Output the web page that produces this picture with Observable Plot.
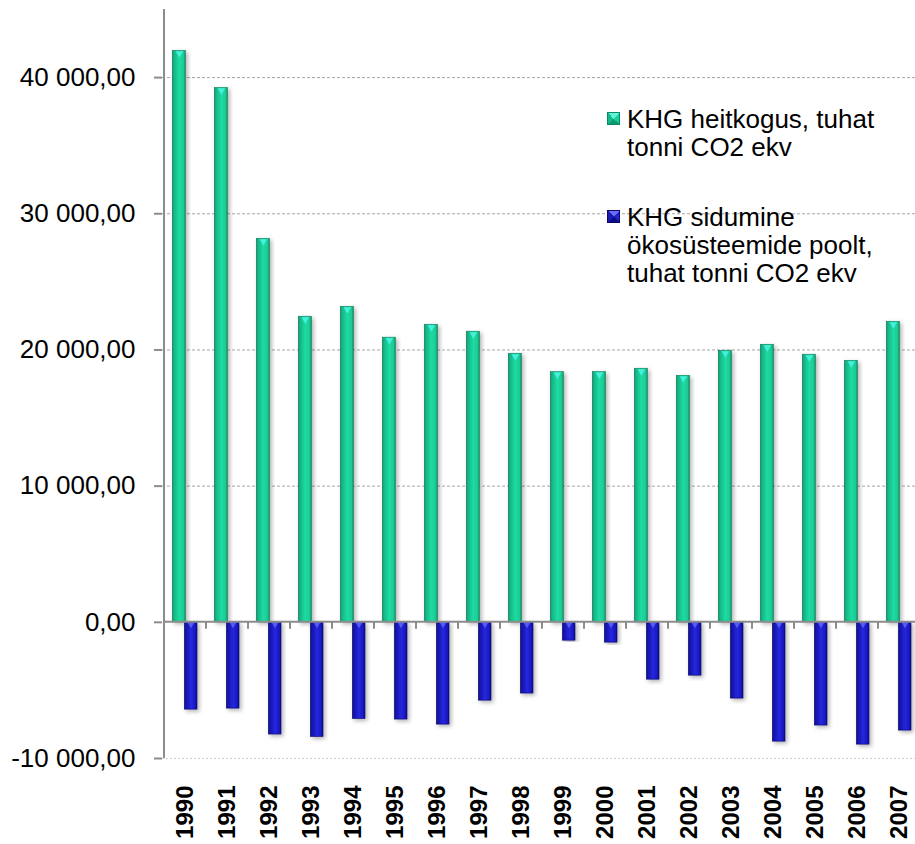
<!DOCTYPE html>
<html>
<head>
<meta charset="utf-8">
<script src="https://cdn.jsdelivr.net/npm/d3@7"></script>
<script src="https://cdn.jsdelivr.net/npm/@observablehq/plot@0.6"></script>
<style>
  html, body { margin: 0; padding: 0; background: #fff; }
  #wrap { position: relative; width: 915px; height: 844px; overflow: hidden; font-family: "Liberation Sans", Arial, sans-serif; }
  .lg-text { position: absolute; font-size: 26px; line-height: 28px; color: #000; white-space: nowrap; }
  .lg-mark { position: absolute; width: 13px; height: 13px; box-sizing: border-box; }
</style>
</head>
<body>
<div id="wrap"></div>
<script>
const years = ["1990","1991","1992","1993","1994","1995","1996","1997","1998","1999","2000","2001","2002","2003","2004","2005","2006","2007"];
const emissions = [41960, 39240, 28160, 22440, 23170, 20900, 21850, 21340, 19720, 18370, 18380, 18620, 18100, 19940, 20380, 19650, 19200, 22070];
const sinks = [-6410, -6335, -8240, -8420, -7100, -7140, -7510, -5750, -5230, -1345, -1490, -4210, -3915, -5600, -8760, -7580, -8980, -7950];
const yTicks = [-10000, 0, 10000, 20000, 30000, 40000];
const gridTicks = [10000, 20000, 30000, 40000];
const legendLabels = [
  ["KHG heitkogus, tuhat", "tonni CO2 ekv"],
  ["KHG sidumine", "ökosüsteemide poolt,", "tuhat tonni CO2 ekv"]
];

const table = years.map((year, i) => ({year, emission: emissions[i], sink: sinks[i]}));

const fmt = d3.formatLocale({decimal: ",", thousands: " ", grouping: [3], currency: ["", ""], minus: "-"}).format(",.2f");

function defsMark() {
  return () => {
    const g = d3.create("svg:g");
    const defs = g.append("defs");
    const grad = (id, stops) => {
      const lg = defs.append("linearGradient").attr("id", id).attr("x1", "0").attr("x2", "1").attr("y1", "0").attr("y2", "0");
      stops.forEach(([o, c]) => lg.append("stop").attr("offset", o).attr("stop-color", c));
    };
    grad("gGreen", [[0, "#0b8a62"], [0.12, "#15b486"], [0.55, "#1fdca3"], [0.85, "#1bcb95"], [1, "#0c8c64"]]);
    grad("gBlue", [[0, "#0a0a72"], [0.12, "#1414ad"], [0.55, "#2626de"], [0.85, "#1a1ac2"], [1, "#0a0a78"]]);
    const f = defs.append("filter").attr("id", "shadow").attr("x", "-30%").attr("y", "-5%").attr("width", "170%").attr("height", "115%");
    f.append("feDropShadow").attr("dx", 2).attr("dy", 2).attr("stdDeviation", 2).attr("flood-color", "#000").attr("flood-opacity", 0.3);
    return g.node();
  };
}

function axesMark() {
  return (index, scales) => {
    const x = scales.x, y = scales.y;
    const g = d3.create("svg:g").attr("stroke", "#8c8c8c").attr("stroke-width", 2).attr("fill", "none");
    const x0 = x(years[0]);
    const step = x(years[1]) - x(years[0]);
    g.append("line").attr("x1", x0).attr("x2", x(years[years.length - 1]) + step).attr("y1", y(0)).attr("y2", y(0));
    years.slice(1).forEach(yr => {
      g.append("line").attr("x1", x(yr)).attr("x2", x(yr)).attr("y1", y(0)).attr("y2", y(0) + 7);
    });
    g.append("line").attr("x1", x0).attr("x2", x0).attr("y1", y(45000)).attr("y2", y(-10000));
    return g.node();
  };
}

const chart = Plot.plot({
  width: 915,
  height: 844,
  marginTop: 9,
  marginBottom: 86,
  marginLeft: 162,
  marginRight: 0,
  style: {fontFamily: "'Liberation Sans', Arial, sans-serif", background: "white", color: "#000"},
  x: {domain: years, range: [162, 922], padding: 0, label: null},
  y: {domain: [-10000, 45000], label: null},
  marks: [
    defsMark(),
    Plot.ruleY(gridTicks, {y: d => d, stroke: "#a6a6a6", strokeDasharray: "3,2", strokeWidth: 1}),
    Plot.ruleY([-10000], {y: d => d, stroke: "#cfcfcf", strokeDasharray: "2,2", strokeWidth: 1}),
    Plot.barY(table, {x: "year", y: "emission", fill: "url(#gGreen)", stroke: "#0a7f5a", strokeWidth: 0.6, insetLeft: 8.3, insetRight: 20.6, className: "bars-green"}),
    Plot.barY(table, {x: "year", y: "sink", fill: "url(#gBlue)", stroke: "#08086a", strokeWidth: 0.6, insetLeft: 20.3, insetRight: 9, className: "bars-blue"}),
    Plot.dot(table, {x: "year", y: "emission", symbol: "triangle2", rotate: 180, r: 3.6, fill: "#44f0dc", stroke: "none", dx: -6.15, dy: 2.6}),
    Plot.dot(table, {x: "year", y: 0, symbol: "triangle2", rotate: 180, r: 3, fill: "#5a5af0", stroke: "none", dx: 5.5, dy: 2.2}),
    Plot.axisY({ticks: yTicks, tickFormat: fmt, tickSize: 8, tickPadding: 19, fontSize: 26, stroke: "#8c8c8c", strokeWidth: 2, label: null, fill: "#000"}),
    Plot.axisX({tickRotate: -90, tickSize: 0, tickPadding: 27, fontSize: 24, fontWeight: "bold", label: null, fill: "#000"}),
    axesMark()
  ]
});

d3.select(chart).selectAll(".bars-green rect").attr("fill", "url(#gGreen)").attr("filter", "url(#shadow)");
d3.select(chart).selectAll(".bars-blue rect").attr("fill", "url(#gBlue)").attr("filter", "url(#shadow)");

const wrap = document.getElementById("wrap");
wrap.appendChild(chart);

// legend
const legendFaces = [
  "conic-gradient(from -45deg, #5ff2dc 0 25%, #1ccf9c 25% 50%, #0c9a70 50% 75%, #16b98a 75%)",
  "conic-gradient(from -45deg, #6a6af5 0 25%, #2424cc 25% 50%, #0c0c8a 50% 75%, #1a1ab0 75%)"
];
const legendEdges = ["#0b8a62", "#08086a"];
const legendTops = [105, 203];
legendLabels.forEach((lines, k) => {
  const mark = document.createElement("div");
  mark.className = "lg-mark";
  mark.style.left = "607px";
  mark.style.top = (legendTops[k] + 7) + "px";
  mark.style.background = legendFaces[k];
  mark.style.border = "1px solid " + legendEdges[k];
  wrap.appendChild(mark);
  const t = document.createElement("div");
  t.className = "lg-text";
  t.style.left = "627px";
  t.style.top = legendTops[k] + "px";
  t.innerHTML = lines.map(s => s.replace(/&/g, "&amp;").replace(/</g, "&lt;")).join("<br>");
  wrap.appendChild(t);
});
</script>
</body>
</html>
